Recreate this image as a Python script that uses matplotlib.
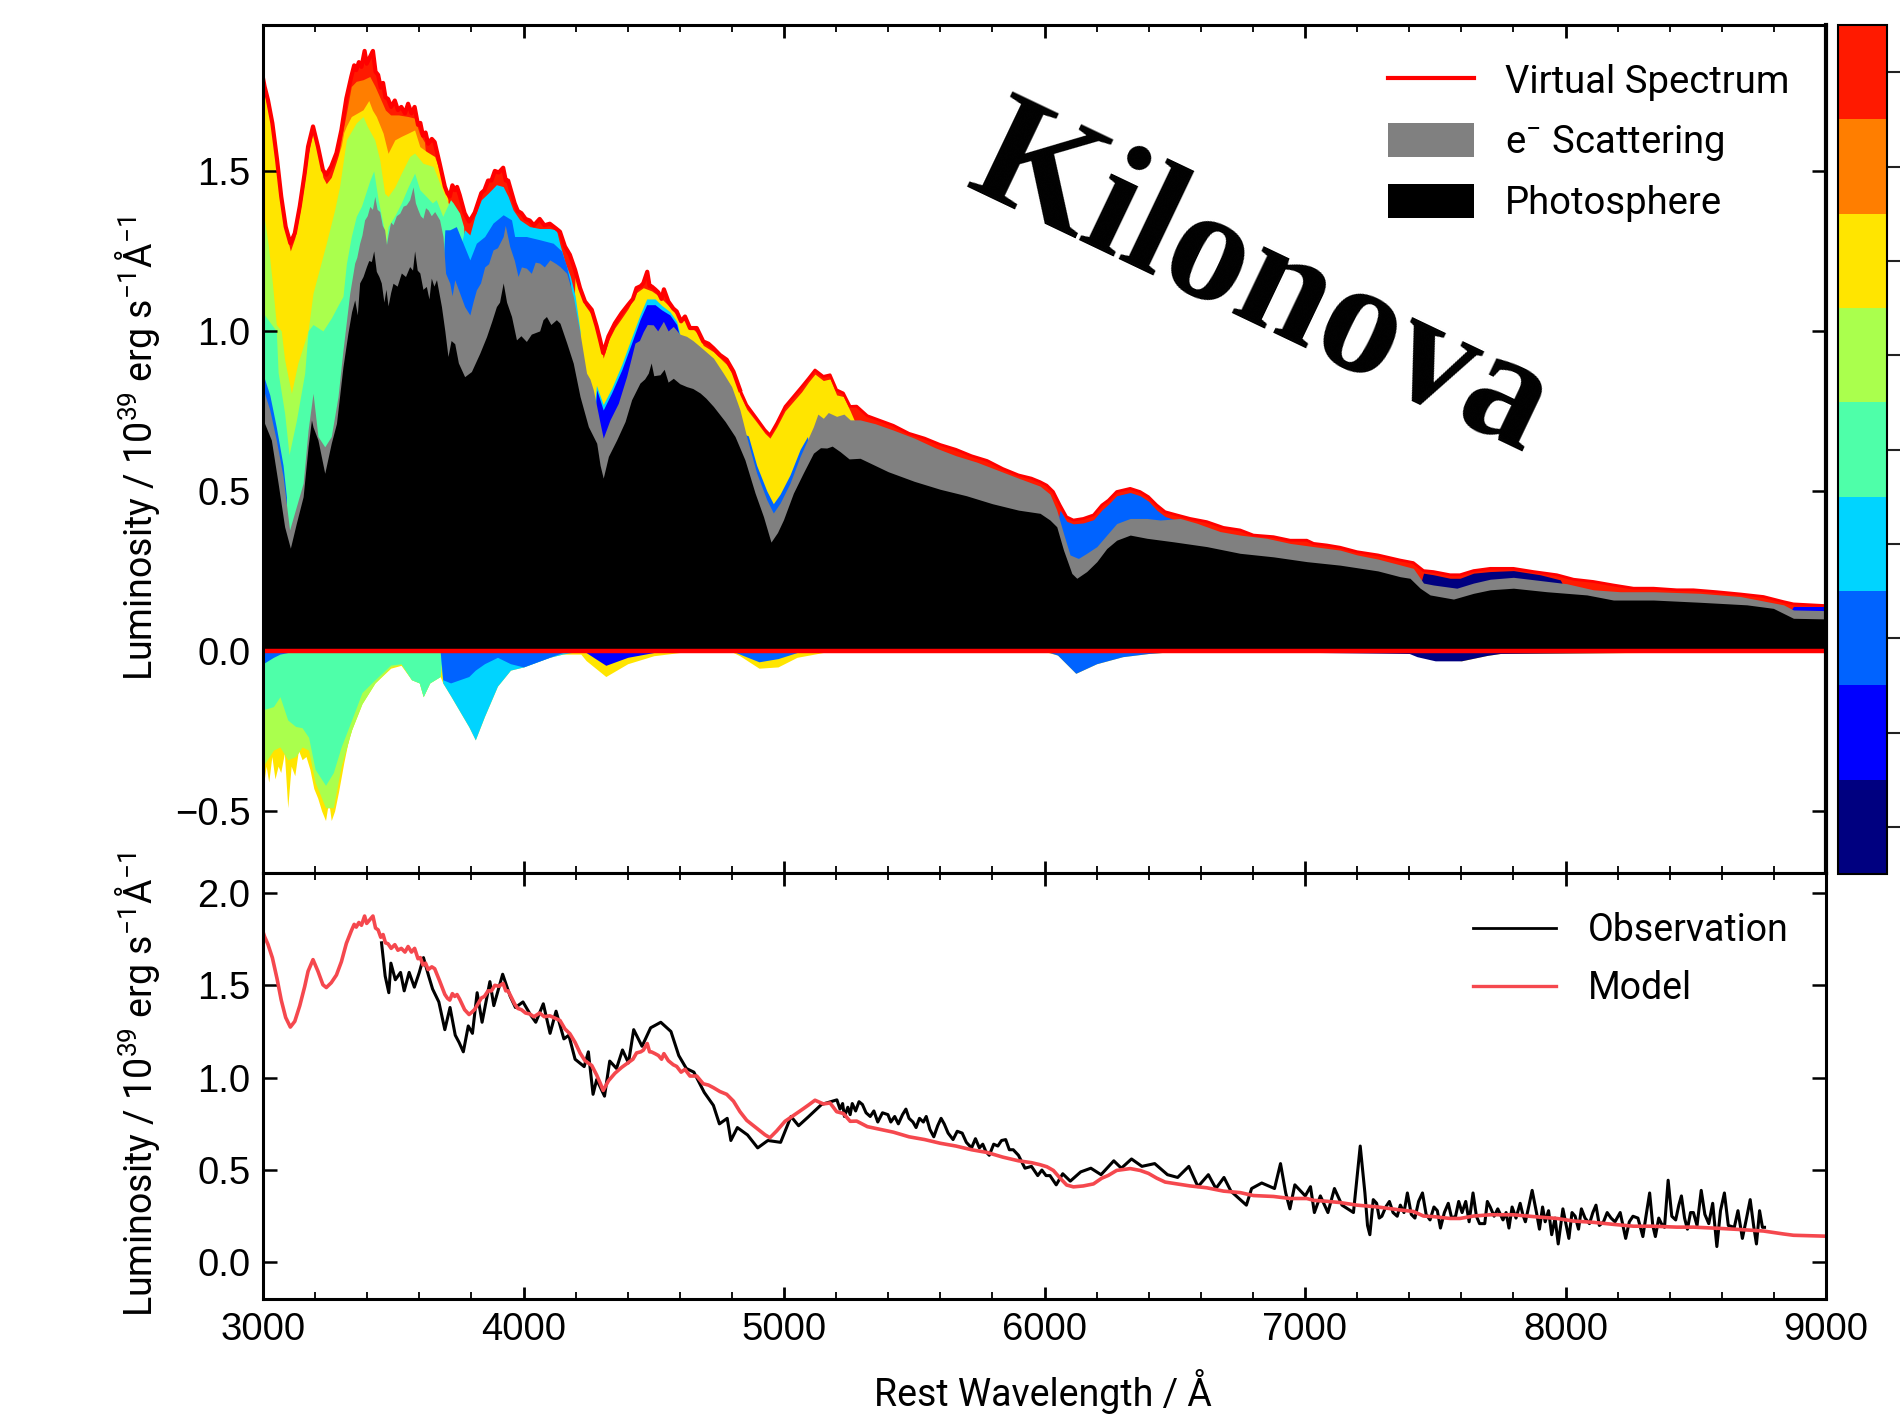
import numpy as np
import matplotlib
matplotlib.use('Agg')
import matplotlib.pyplot as plt
from matplotlib.colors import ListedColormap, BoundaryNorm
from matplotlib.cm import ScalarMappable
from matplotlib.lines import Line2D
from matplotlib.patches import Patch

plt.rcParams['font.family'] = ['Liberation Sans', 'DejaVu Sans']
plt.rcParams['mathtext.default'] = 'regular'

# toplam (virtual spectrum) egrisi
total_wl = [3000,3006,3019,3036,3054,3070,3087,3105,3122,3141,
            3160,3173,3192,3211,3230,3243,3262,3282,3301,3320,
            3339,3350,3358,3368,3378,3390,3398,3410,3422,3432,
            3442,3452,3461,3470,3480,3492,3506,3518,3531,3545,
            3557,3570,3582,3595,3604,3614,3624,3634,3648,3659,
            3678,3698,3708,3717,3727,3736,3745,3755,3774,3791,
            3802,3813,3838,3850,3864,3877,3890,3905,3922,3932,
            3941,3966,3978,3992,4008,4024,4040,4062,4080,4101,
            4125,4140,4159,4178,4198,4217,4236,4262,4281,4294,
            4306,4326,4351,4377,4402,4420,4434,4450,4460,4475,
            4484,4492,4505,4518,4530,4539,4556,4575,4588,4605,
            4620,4639,4665,4690,4710,4729,4754,4780,4806,4831,
            4857,4895,4927,4946,4972,5004,5036,5068,5094,5119,
            5151,5177,5202,5228,5254,5279,5320,5370,5420,5480,
            5540,5600,5660,5720,5780,5840,5900,5950,5983,6009,
            6034,6060,6085,6111,6149,6188,6220,6245,6277,6329,
            6367,6399,6431,6463,6508,6559,6623,6687,6751,6802,
            6879,6943,7007,7033,7084,7135,7200,7280,7365,7416,
            7455,7493,7557,7595,7647,7711,7800,7877,7967,8031,
            8107,8184,8261,8338,8427,8491,8581,8671,8760,8837,
            8875,8990,9000]
total = [1.79,1.764,1.722,1.649,1.535,1.42,1.326,1.274,1.305,1.389,
         1.493,1.576,1.639,1.576,1.503,1.488,1.514,1.556,1.628,1.727,
         1.795,1.83,1.815,1.84,1.825,1.875,1.835,1.855,1.875,1.81,
         1.80,1.76,1.775,1.73,1.725,1.70,1.72,1.69,1.70,1.68,
         1.71,1.68,1.70,1.644,1.65,1.61,1.62,1.585,1.60,1.59,
         1.524,1.451,1.43,1.42,1.455,1.44,1.45,1.425,1.368,1.342,
         1.355,1.37,1.431,1.44,1.47,1.47,1.50,1.495,1.51,1.47,
         1.47,1.399,1.375,1.368,1.35,1.345,1.33,1.35,1.33,1.335,
         1.32,1.31,1.264,1.238,1.191,1.134,1.092,1.066,1.014,.972,
         .931,.983,1.024,1.056,1.082,1.10,1.134,1.14,1.149,1.185,
         1.14,1.139,1.13,1.12,1.10,1.13,1.092,1.07,1.061,1.03,
         1.045,1.009,1.009,.967,.96,.946,.925,.91,.873,.816,
         .769,.727,.691,.675,.712,.764,.795,.826,.852,.878,
         .858,.863,.816,.806,.764,.765,.735,.72,.705,.68,
         .665,.645,.63,.61,.595,.57,.55,.54,.529,.518,
         .498,.456,.419,.409,.414,.425,.456,.471,.498,.508,
         .498,.482,.456,.435,.425,.414,.404,.386,.378,.362,
         .357,.346,.346,.336,.331,.324,.31,.30,.284,.276,
         .251,.248,.238,.238,.251,.258,.258,.248,.238,.224,
         .217,.206,.196,.196,.191,.191,.185,.178,.17,.154,
         .147,.142,.142]

# gri katmanin ust siniri
gray_wl = [3000,3006,3026,3051,3077,3102,3128,3154,3173,3192,
           3211,3237,3262,3288,3307,3333,3352,3360,3371,3380,
           3390,3400,3410,3420,3429,3438,3448,3458,3467,3474,
           3480,3490,3499,3512,3525,3538,3550,3563,3576,3585,
           3595,3604,3614,3624,3634,3646,3659,3678,3691,3701,
           3717,3726,3736,3755,3774,3794,3806,3819,3835,3851,
           3866,3883,3900,3922,3930,3947,3965,3979,3992,4011,
           4030,4045,4062,4080,4101,4125,4140,4166,4191,4217,
           4242,4255,4268,4294,4306,4332,4364,4396,4428,4445,
           4460,4475,4498,4515,4537,4555,4575,4600,4626,4650,
           4678,4729,4767,4799,4831,4863,4895,4934,4959,4985,
           5023,5062,5113,5130,5151,5170,5202,5230,5254,5292,
           5350,5420,5500,5580,5660,5740,5820,5900,5983,6021,
           6047,6073,6098,6130,6162,6201,6239,6277,6329,6393,
           6444,6521,6585,6674,6751,6853,6943,7033,7135,7200,
           7280,7365,7416,7455,7493,7583,7647,7711,7800,7903,
           8005,8107,8210,8338,8517,8671,8773,8837,8875,9000]
gray_top = [.83,.805,.753,.659,.545,.378,.451,.524,.69,.805,
            .67,.638,.67,.795,.94,1.118,1.212,1.23,1.274,1.30,
            1.347,1.36,1.389,1.38,1.42,1.38,1.373,1.33,1.316,1.27,
            1.30,1.34,1.332,1.36,1.368,1.39,1.394,1.41,1.45,1.40,
            1.378,1.36,1.352,1.385,1.378,1.36,1.373,1.347,1.295,1.18,
            1.149,1.11,1.16,1.118,1.076,1.05,1.09,1.128,1.15,1.2,
            1.21,1.253,1.26,1.295,1.33,1.264,1.22,1.17,1.20,1.196,
            1.18,1.215,1.212,1.20,1.222,1.21,1.201,1.18,1.108,.993,
            .868,.85,.816,.712,.665,.722,.774,.858,.962,.97,
            .998,1.02,1.019,1.0,1.03,1.0,1.014,.99,.983,.97,
            .951,.915,.868,.826,.753,.649,.556,.472,.431,.462,
            .524,.608,.701,.74,.727,.745,.733,.74,.722,.722,
            .71,.69,.665,.635,.61,.59,.565,.54,.515,.49,
            .44,.367,.30,.289,.305,.326,.362,.398,.414,.414,
            .409,.414,.399,.373,.362,.352,.336,.326,.315,.30,
            .287,.269,.258,.212,.206,.196,.212,.224,.23,.22,
            .21,.191,.185,.185,.18,.17,.154,.144,.128,.126]

# fotosfer (siyah)
photo_wl = [3000,3006,3032,3058,3083,3105,3128,3154,3173,3186,
            3192,3211,3237,3262,3282,3307,3326,3340,3352,3362,
            3371,3384,3397,3406,3416,3425,3435,3445,3454,3464,
            3472,3480,3490,3499,3515,3531,3547,3563,3574,3582,
            3592,3602,3614,3627,3637,3646,3656,3666,3685,3698,
            3710,3722,3736,3750,3774,3800,3832,3858,3878,3896,
            3908,3922,3935,3954,3973,3990,4011,4030,4062,4075,
            4088,4105,4126,4140,4166,4191,4217,4249,4281,4294,
            4306,4326,4358,4390,4415,4447,4465,4479,4490,4500,
            4524,4540,4555,4575,4600,4626,4650,4678,4700,4729,
            4774,4812,4850,4889,4921,4950,4975,4998,5036,5074,
            5113,5140,5164,5185,5215,5250,5292,5400,5500,5600,
            5700,5800,5900,5983,6021,6047,6073,6105,6124,6162,
            6201,6239,6277,6329,6393,6495,6623,6751,6879,7007,
            7135,7200,7280,7365,7403,7442,7480,7570,7647,7711,
            7800,7928,8082,8184,8338,8517,8696,8798,8875,9000]
photosphere = [.73,.711,.659,.524,.388,.321,.399,.482,.638,.722,
               .70,.659,.555,.649,.711,.888,.993,1.06,1.097,1.05,
               1.15,1.17,1.201,1.22,1.217,1.25,1.186,1.17,1.15,1.09,
               1.13,1.078,1.12,1.149,1.14,1.181,1.17,1.201,1.19,1.25,
               1.19,1.181,1.13,1.139,1.10,1.165,1.14,1.16,1.076,1.0,
               .92,.97,.96,.90,.857,.873,.93,.982,1.03,1.076,
               1.09,1.15,1.09,1.045,.972,.985,.967,.99,1.0,1.035,
               1.045,1.02,1.035,1.024,.962,.899,.795,.701,.649,.58,
               .54,.608,.66,.717,.785,.837,.85,.868,.90,.86,
               .863,.88,.84,.852,.835,.826,.82,.806,.79,.764,
               .717,.67,.597,.493,.42,.34,.37,.41,.493,.556,
               .618,.635,.634,.64,.623,.60,.602,.56,.53,.505,
               .485,.46,.44,.43,.409,.388,.315,.242,.227,.248,
               .279,.32,.346,.362,.352,.341,.326,.305,.294,.279,
               .268,.26,.25,.232,.227,.196,.175,.162,.18,.191,
               .196,.185,.175,.159,.159,.152,.144,.133,.102,.10]

# renkli katmanlarin ust sinirlari
orange_wl = [3290,3301,3320,3339,3358,3384,3410,3430,3450,3470,3490,3520,3557,3582,3600,3620,3630]
orange_top = [1.55,1.60,1.68,1.764,1.78,1.785,1.795,1.764,1.727,1.69,1.675,1.675,1.67,1.665,1.618,1.59,1.5]

yellow1_wl = [3000,3006,3036,3054,3070,3087,3105,3122,3141,3160,
              3173,3192,3211,3230,3243,3262,3282,3301,3310,3320,
              3339,3384,3406,3420,3435,3461,3480,3506,3531,3557,
              3582,3602,3627,3659,3678,3698,3710]
yellow1_top = [1.76,1.74,1.63,1.52,1.40,1.31,1.25,1.29,1.37,1.47,
               1.55,1.62,1.56,1.48,1.46,1.48,1.53,1.58,1.62,1.64,
               1.67,1.691,1.72,1.69,1.67,1.618,1.555,1.597,1.608,1.618,
               1.628,1.576,1.561,1.545,1.50,1.44,1.41]
yellow2_wl = [4190,4198,4217,4236,4262,4281,4294,4306,4326,4351,
              4377,4402,4434,4460,4492,4518,4556,4588,4620,4665,
              4690,4729,4780,4806,4831,4857,4895,4927,4946,4972,
              5004,5036,5068,5094,5119,5151,5177,5202,5228,5254,5270]
yellow2_top = [1.0,1.17,1.12,1.08,1.05,1.0,.96,.915,.97,1.01,
               1.04,1.07,1.12,1.135,1.125,1.11,1.08,1.05,1.03,.995,
               .955,.935,.895,.86,.80,.755,.715,.68,.665,.70,
               .75,.78,.81,.84,.865,.845,.85,.80,.795,.75,.72]

lime_wl = [3000,3006,3020,3036,3051,3070,3083,3109,3134,3173,
           3192,3243,3275,3294,3320,3358,3384,3400,3429,3448,
           3467,3480,3506,3531,3563,3582,3614,3653,3678,3704,3717,3725]
lime_top = [1.36,1.347,1.27,1.15,1.02,1.0,.91,.805,.90,1.0,
            1.118,1.274,1.378,1.451,1.597,1.65,1.67,1.64,1.597,1.535,
            1.43,1.42,1.45,1.493,1.545,1.556,1.524,1.514,1.462,1.41,1.39,1.3]

spring_wl = [3000,3006,3051,3058,3083,3100,3128,3160,3173,3192,
             3230,3262,3288,3307,3320,3339,3358,3378,3410,3425,
             3442,3462,3472,3480,3506,3531,3557,3582,3602,3627,
             3650,3665,3690,3702,3720,3730,3755,3770,3780]
spring_top = [1.07,1.05,1.0,.87,.743,.613,.72,.868,1.0,1.02,
              1.0,1.04,1.08,1.108,1.21,1.295,1.358,1.39,1.47,1.50,
              1.41,1.33,1.27,1.326,1.36,1.40,1.45,1.493,1.441,1.42,
              1.40,1.41,1.358,1.38,1.41,1.40,1.368,1.326,1.2]

cyan1_wl = [3740,3774,3794,3813,3838,3864,3896,3922,3941,3960,
            3986,4024,4062,4100,4126,4140,4159,4180,4198,4217]
cyan1_top = [1.2,1.316,1.30,1.357,1.41,1.43,1.457,1.451,1.42,1.378,
             1.347,1.326,1.32,1.32,1.316,1.27,1.215,1.17,1.11,1.0]
cyan2_wl = [4270,4280,4306,4338,4377,4415,4447,4473,4505,4530,4562,4588,4600]
cyan2_top = [.75,.83,.77,.82,.895,.98,1.05,1.10,1.10,1.08,1.06,1.03,.99]

mid1_wl = [3000,3006,3026,3051,3077,3090]
mid1_top = [.86,.85,.80,.70,.58,.48]
mid2_wl = [3691,3698,3717,3742,3768,3794,3819,3851,3883,3922,
           3954,3966,4011,4062,4114,4146,4166,4180,4195]
mid2_top = [1.2,1.316,1.316,1.326,1.274,1.222,1.274,1.295,1.337,1.363,
            1.347,1.295,1.295,1.285,1.274,1.25,1.2,1.15,1.0]
mid3_wl = [4840,4863,4895,4934,4959,4985,5023,5062,5090,5100]
mid3_top = [.68,.672,.58,.50,.46,.49,.55,.63,.67,.6]
mid4_wl = [6050,6060,6085,6111,6149,6188,6220,6245,6277,6329,
           6367,6399,6431,6463,6500,6521]
mid4_top = [.40,.44,.405,.397,.40,.41,.44,.458,.485,.495,
            .485,.468,.44,.42,.41,.40]

blue1_wl = [4275,4281,4306,4338,4377,4415,4447,4473,4505,4530,4562,4588,4600]
blue1_top = [.75,.816,.753,.806,.878,.962,1.035,1.082,1.082,1.066,1.05,1.02,.98]
blue2_wl = [8860,8875,9000]
blue2_top = [.12,.139,.139]

navy_wl = [7440,7455,7493,7557,7595,7647,7711,7800,7903,7980,8000]
navy_top = [.2,.243,.238,.227,.227,.243,.248,.251,.238,.222,.19]

# sifirin altindaki kisim
neg_wl = [3000,3040,3065,3095,3125,3150,3175,3200,3240,3270,
          3300,3340,3380,3430,3490,3530,3570,3600,3615,3640,
          3680,3690,3720,3790,3815,3850,3900,3950,4000,4100,
          4150,4220,4240,4316,4400,4500,4600,4800,4830,4904,
          4977,5050,5150,5300,6000,6050,6120,6200,6300,6400,
          6500,7400,7430,7500,7600,7700,7750,9000]
neg_yellow = [-.36,-.31,-.30,-.34,-.33,-.30,-.31,-.41,-.49,-.49,
              -.36,-.247,-.165,-.10,-.054,-.045,-.09,-.10,-.143,-.10,
              -.08,-.10,-.14,-.237,-.278,-.205,-.11,-.06,-.05,-.02,
              -.01,-.01,-.03,-.08,-.04,-.015,-.005,-.003,-.015,-.054,
              -.05,-.02,-.005,-.002,-.002,-.013,-.07,-.04,-.018,-.008,
              -.002,-.002,-.008,-.018,-.031,-.014,-.008,-.001]
neg_lime = [-.36,-.31,-.30,-.34,-.33,-.30,-.31,-.41,-.49,-.49,
            -.36,-.247,-.165,-.10,-.05,-.042,-.09,-.10,-.143,-.10,
            -.08] + [0]*37
neg_spring = [-.184,-.174,-.143,-.216,-.236,-.24,-.27,-.37,-.42,-.38,
              -.30,-.216,-.13,-.09,-.044,-.04,-.09,-.10,-.143,-.10,
              -.08] + [0]*37
neg_cyan = [0]*21 + [-.10,-.14,-.237,-.278,-.205,-.11,-.06,-.05,-.02,-.01] + [0]*27
neg_mid = [-.04,-.02,-.01,-.005] + [0]*17 + [-.09,-.10,-.08,-.06,-.04,-.02,-.04,-.05,-.02,-.005,
           0,0,-.01,-.005,0,0,0,-.01,-.034,-.024,-.005,0,0,0,-.013,-.07,-.04,-.018,-.008,-.002,
           0,0,0,0,0,0,0]
neg_blue = [0]*32 + [-.005,-.045,-.02,-.005] + [0]*22
neg_navy = [0]*51 + [-.008,-.018,-.031,-.031,-.014,-.008,0]

# sol taraftaki sarimsi dis kenar, daha tirtikli
edge_wl = [3000,3012,3022,3034,3046,3058,3068,3082,3095,3108,
           3122,3136,3150,3165,3180,3195,3210,3225,3240,3252,
           3262,3275,3290,3310,3330,3350,3370,3390,3420,3460]
edge_yellow = [-.43,-.36,-.41,-.33,-.40,-.36,-.38,-.32,-.49,-.36,
               -.39,-.31,-.34,-.33,-.37,-.43,-.46,-.50,-.53,-.47,
               -.53,-.50,-.44,-.35,-.27,-.22,-.18,-.14,-.10,-.06]

# gozlem spektrumu (alt panel)
obs_wl = [3455,3469,3483,3491,3508,3528,3542,3561,3581,3600,3616,3636,3651,3675,3698,3718,3738,3753,3769,3788,
          3804,3822,3841,3871,3886,3920,3949,3969,3998,4027,4047,4076,4102,4125,4155,4174,4198,4233,4249,4267,
          4281,4311,4331,4357,4380,4403,4423,4455,4488,4527,4566,4596,4625,4654,4694,4729,4752,4782,4796,4821,
          4860,4899,4938,4987,5027,5056,5095,5144,
          5203,5215,5225,5232,5245,5254,5262,5275,5288,5301,5315,5331,5345,5360,5378,5399,5410,5425,5439,5455,
          5468,5480,5495,5507,5520,5535,5546,5560,5575,5590,5603,5615,5630,5649,5665,5684,5700,5720,5735,5750,
          5763,5775,5788,5805,5821,5835,5851,5865,5880,5900,5925,5950,5974,5990,6006,
          6021,6045,6070,6099,6139,6178,6217,6266,
          6295,6334,6374,6423,6472,6511,6554,6589,6629,6658,6689,6716,6775,6795,6834,6883,6906,6926,6942,6961,
          7001,7021,7036,7059,7088,7113,7142,7186,7212,
          7230,7240,7249,7262,7275,7285,7295,7310,7324,7338,
          7354,7366,7380,7393,7408,7422,7436,7451,7465,7480,
          7495,7508,7520,7535,7550,7563,7578,7590,7603,7617,
          7630,7645,7658,7670,7690,7700,7711,7726,7740,7760,
          7772,7783,7795,7810,7826,7836,7846,7860,7872,7890,
          7900,7912,7922,7935,7947,7960,7972,7990,8000,8013,
          8025,8037,8050,8061,8075,8092,8105,8117,8130,8146,
          8160,8175,8190,8210,8231,8245,8259,8278,8297,8310,
          8323,8335,8345,8358,8368,8380,8394,8408,8423,8435,
          8445,8457,8468,8480,8491,8505,8521,8535,8550,8565,
          8581,8595,8610,8625,8648,8662,8679,8695,8709,8722,
          8733,8745,8756,8764]
obs_val = [1.73,1.55,1.46,1.62,1.53,1.57,1.47,1.57,1.49,1.57,1.65,1.55,1.48,1.41,1.26,1.38,1.23,1.19,1.14,1.28,
           1.24,1.46,1.30,1.52,1.39,1.56,1.44,1.38,1.41,1.34,1.30,1.40,1.24,1.36,1.21,1.23,1.10,1.06,1.14,.91,
           .99,.90,1.09,1.05,1.15,1.08,1.26,1.17,1.27,1.30,1.25,1.12,1.05,1.03,.92,.85,.75,.78,.66,.73,
           .69,.62,.66,.65,.79,.74,.79,.855,
           .88,.83,.86,.79,.84,.80,.86,.82,.87,.855,.81,.79,.82,.76,.81,.80,.76,.79,.75,.80,
           .83,.78,.76,.73,.78,.76,.79,.72,.68,.74,.78,.75,.70,.665,.71,.70,.65,.62,.67,.62,
           .64,.60,.58,.64,.63,.66,.665,.61,.61,.58,.51,.52,.47,.50,.47,
           .47,.42,.48,.44,.49,.51,.475,.55,
           .51,.56,.52,.535,.475,.46,.52,.41,.475,.40,.46,.385,.31,.40,.43,.40,.535,.376,.29,.42,
           .36,.41,.27,.36,.27,.40,.31,.27,.63,
           .376,.20,.15,.34,.32,.24,.25,.30,.33,.27,
           .25,.31,.27,.376,.26,.24,.33,.376,.26,.23,
           .30,.28,.186,.27,.32,.24,.25,.33,.27,.33,
           .22,.376,.25,.21,.21,.33,.30,.25,.29,.23,
           .27,.186,.30,.24,.32,.26,.22,.31,.39,.26,
           .18,.30,.22,.28,.15,.24,.10,.29,.22,.13,
           .27,.25,.18,.29,.24,.21,.27,.31,.20,.22,
           .27,.24,.22,.27,.13,.22,.25,.24,.14,.26,
           .376,.20,.14,.24,.21,.19,.445,.25,.23,.31,
           .36,.24,.18,.27,.27,.20,.39,.26,.21,.32,
           .086,.28,.376,.20,.19,.28,.13,.24,.34,.20,
           .10,.28,.19,.19]

bar_colors = ['#000080', '#0000ff', '#0063ff', '#00d4ff', '#4effa9',
              '#aaff4d', '#ffe500', '#ff7e00', '#ff1a00']
bar_edges = list(range(10))

W, H = 1900, 1417
fig = plt.figure(figsize=(W / 100, H / 100), dpi=100)
ax1 = fig.add_axes([263 / W, 1 - 873 / H, 1563 / W, 848 / H])
ax2 = fig.add_axes([263 / W, 1 - 1299 / H, 1563 / W, 426 / H])
cax = fig.add_axes([1838 / W, 1 - 874 / H, 49 / W, 849 / H])

# disaridan ice dogru boya, alttaki katman bir sonrakinin altinda kaliyor
layers = [(total_wl, total, '#ff1a00'), (orange_wl, orange_top, '#ff7e00'),
          (yellow1_wl, yellow1_top, '#ffe500'), (yellow2_wl, yellow2_top, '#ffe500'),
          (lime_wl, lime_top, '#aaff4d'), (spring_wl, spring_top, '#4effa9'),
          (cyan1_wl, cyan1_top, '#00d4ff'), (cyan2_wl, cyan2_top, '#00d4ff'),
          (mid1_wl, mid1_top, '#0063ff'), (mid2_wl, mid2_top, '#0063ff'),
          (mid3_wl, mid3_top, '#0063ff'), (mid4_wl, mid4_top, '#0063ff'),
          (blue1_wl, blue1_top, '#0000ff'), (blue2_wl, blue2_top, '#0000ff'),
          (navy_wl, navy_top, '#000080'), (gray_wl, gray_top, '#808080'),
          (photo_wl, photosphere, '#000000')]
for x, y, col in layers:
    ax1.fill_between(x, y, 0, color=col, linewidth=0)

ax1.fill_between(edge_wl, edge_yellow, 0, color='#ffe500', linewidth=0)
neg_layers = [(neg_yellow, '#ffe500'), (neg_lime, '#aaff4d'), (neg_spring, '#4effa9'),
              (neg_cyan, '#00d4ff'), (neg_mid, '#0063ff'), (neg_blue, '#0000ff'),
              (neg_navy, '#000080')]
for edge, col in neg_layers:
    ax1.fill_between(neg_wl, edge, 0, color=col, linewidth=0)

# kirmizi cizgi kisa dalga boyunda daha kalin gorunuyor
split = total_wl.index(4831)
ax1.plot(total_wl[:split + 1], total[:split + 1], color='#ff0000', lw=3.0)
ax1.plot(total_wl[split:], total[split:], color='#ff0000', lw=2.0)
ax1.axhline(0, color='#ff0000', lw=3.2)

ax2.plot(obs_wl, obs_val, color='black', lw=2.2)
ax2.plot(total_wl, total, color='#f5484e', lw=2.6)

ax1.set_xlim(3000, 9000)
ax2.set_xlim(3000, 9000)
ax1.set_ylim(-0.694, 1.956)
ax2.set_ylim(-0.198, 2.108)

for ax in (ax1, ax2):
    ax.set_xticks(np.arange(3000, 9001, 1000))
    ax.set_xticks(np.arange(3000, 9001, 200), minor=True)
    ax.tick_params(axis='x', which='major', direction='in', top=True, bottom=True, length=9, width=2)
    ax.tick_params(axis='x', which='minor', direction='in', top=True, bottom=True, length=5, width=1.3)
    ax.tick_params(axis='y', which='major', direction='in', left=True, right=True, length=10, width=1.8)
    ax.tick_params(labelsize=27.5, pad=9)
    for s in ax.spines.values():
        s.set_linewidth(2.2)
        s.set_zorder(5)
ax1.spines['right'].set_linewidth(3)
ax1.tick_params(axis='x', labelbottom=False)
ax1.set_yticks([-0.5, 0, 0.5, 1.0, 1.5])
ax1.set_yticklabels(['\u22120.5', '0.0', '0.5', '1.0', '1.5'])
ax2.set_yticks([0, 0.5, 1.0, 1.5, 2.0])
ax2.set_yticklabels(['0.0', '0.5', '1.0', '1.5', '2.0'])

# renk cubugu
sm = ScalarMappable(norm=BoundaryNorm(bar_edges, 9), cmap=ListedColormap(bar_colors))
cb = fig.colorbar(sm, cax=cax, ticks=np.arange(0.5, 9))
cb.minorticks_off()
cb.ax.tick_params(labelright=False, length=10, width=1.5, color='#222222')
cb.outline.set_linewidth(1.5)

label_font = ['Roboto', 'DejaVu Sans']
ylab = 'Luminosity / 10$^{39}$ erg s$^{-1}$\u00c5$^{-1}$'
fig.text(137 / W, 1 - 449 / H, ylab, rotation=90, ha='center', va='center', fontsize=27, family=label_font)
fig.text(137 / W, 1 - 1085 / H, ylab, rotation=90, ha='center', va='center', fontsize=27, family=label_font)
fig.text(1043 / W, 1 - 1391 / H, 'Rest Wavelength / \u00c5', ha='center', va='center', fontsize=27, family=label_font)

h1 = [Line2D([], [], color='#ff0000', lw=3),
      Patch(color='#808080', lw=0), Patch(color='black', lw=0)]
ax1.legend(h1, ['Virtual Spectrum', 'e$^{-}$ Scattering', 'Photosphere'], loc='upper right',
           bbox_to_anchor=(1526 / 1563, 1 - 38 / 848), borderaxespad=0, borderpad=0,
           frameon=False, handlelength=2.25, handleheight=1.0, handletextpad=0.8, labelspacing=0.56,
           prop={'family': label_font, 'size': 27.5})
h2 = [Line2D([], [], color='black', lw=2), Line2D([], [], color='#f5484e', lw=2.4)]
ax2.legend(h2, ['Observation', 'Model'], loc='upper right',
           bbox_to_anchor=(1526 / 1563, 1 - 39 / 426), borderaxespad=0, borderpad=0,
           frameon=False, handlelength=2.2, handletextpad=0.87, labelspacing=0.56,
           prop={'family': label_font, 'size': 27})

fig.text(1260 / W, 1 - 285 / H, 'Kilonova', rotation=-25.5, ha='center', va='center',
         fontsize=115, fontweight='bold', family='Liberation Serif', rotation_mode='anchor')

fig.savefig('out.png', dpi=100)
